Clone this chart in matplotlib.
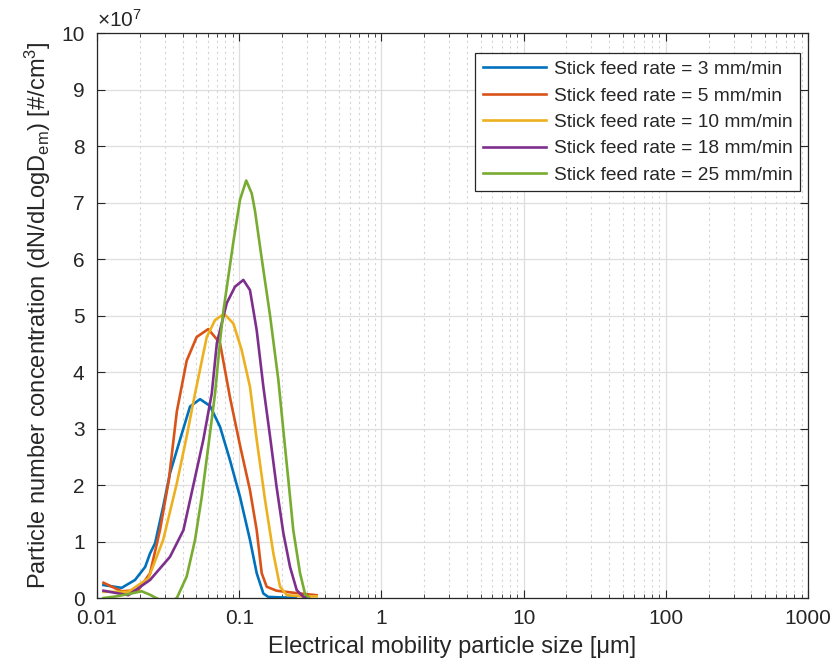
import numpy as np
import matplotlib
matplotlib.use('Agg')
import matplotlib.pyplot as plt
from matplotlib.ticker import LogLocator

plt.rcParams['font.family'] = ['Liberation Sans', 'DejaVu Sans']
plt.rcParams['mathtext.default'] = 'regular'

# particle size [um] and concentration [x1e7 #/cm3], one pair per feed rate
d_3 = [0.0111, 0.0149, 0.0185, 0.0218, 0.0236, 0.0256, 0.0292, 0.0326, 0.0383, 0.0451,
       0.053, 0.0623, 0.0733, 0.0861, 0.1013, 0.119, 0.1327, 0.1478, 0.16, 0.2, 0.25]
n_3 = [0.23, 0.18, 0.32, 0.55, 0.79, 0.97, 1.62, 2.21, 2.80, 3.39,
       3.52, 3.40, 3.03, 2.44, 1.79, 1.03, 0.44, 0.08, 0.02, 0.01, 0.01]

d_5 = [0.0111, 0.0149, 0.0195, 0.0236, 0.0277, 0.032, 0.0364, 0.0427, 0.0502, 0.0606,
       0.0733, 0.0861, 0.1013, 0.119, 0.1327, 0.1439, 0.156, 0.183, 0.2677, 0.35]
n_5 = [0.27, 0.12, 0.14, 0.44, 1.20, 2.09, 3.30, 4.20, 4.62, 4.76,
       4.51, 3.55, 2.70, 1.91, 1.20, 0.44, 0.20, 0.13, 0.08, 0.05]

d_10 = [0.0111, 0.0166, 0.023, 0.0292, 0.0364, 0.0427, 0.0489, 0.0591, 0.0676, 0.0783, 0.0909,
        0.104, 0.119, 0.1327, 0.152, 0.1738, 0.1936, 0.2165, 0.28, 0.35]
n_10 = [0.11, 0.11, 0.35, 1.03, 2.03, 2.86, 3.62, 4.62, 4.92, 5.03, 4.86,
        4.39, 3.74, 2.80, 1.73, 0.79, 0.20, 0.05, 0.03, 0.03]

d_18 = [0.0111, 0.0166, 0.0236, 0.0326, 0.0405, 0.0476, 0.0559, 0.0641, 0.0696, 0.0817, 0.0934,
        0.1069, 0.119, 0.1327, 0.1478, 0.1647, 0.183, 0.2043, 0.2277, 0.2537, 0.283, 0.30]
n_18 = [0.13, 0.05, 0.32, 0.73, 1.20, 2.00, 2.80, 3.62, 4.51, 5.22, 5.51,
        5.63, 5.45, 4.74, 3.74, 2.86, 1.97, 1.15, 0.55, 0.14, 0.02, 0.01]

d_25 = [0.0111, 0.0137, 0.0166, 0.0206, 0.0235, 0.027, 0.031, 0.0364, 0.0427, 0.0489, 0.0545,
        0.0606, 0.0676, 0.0733, 0.0776, 0.0834, 0.0909, 0.1013, 0.112, 0.1225, 0.1291, 0.1439,
        0.1647, 0.1884, 0.2043, 0.2215, 0.24, 0.2677, 0.29, 0.31]
n_25 = [0.0, 0.03, 0.07, 0.12, 0.06, -0.02, -0.1, 0.0, 0.38, 1.03, 1.79,
        2.68, 3.62, 4.55, 5.10, 5.65, 6.30, 7.05, 7.39, 7.16, 6.85, 6.01,
        5.00, 3.86, 2.97, 2.09, 1.20, 0.44, 0.08, 0.0]

labels = ['Stick feed rate = 3 mm/min', 'Stick feed rate = 5 mm/min',
          'Stick feed rate = 10 mm/min', 'Stick feed rate = 18 mm/min',
          'Stick feed rate = 25 mm/min']
colors = ['#0072BD', '#D95319', '#EDB120', '#7E2F8E', '#77AC30']
dark = '#262626'

fig = plt.figure(figsize=(8.35, 6.67), dpi=100)
ax = fig.add_axes([0.1162, 0.1034, 0.8515, 0.8471])

for d, n, lab, c in zip([d_3, d_5, d_10, d_18, d_25],
                        [n_3, n_5, n_10, n_18, n_25], labels, colors):
    ax.plot(d, n, color=c, lw=1.9, label=lab, solid_joinstyle='round')

ax.set_xscale('log')
ax.set_xlim(0.01, 1000)
ax.set_ylim(0, 10)
ax.set_xticks([0.01, 0.1, 1, 10, 100, 1000])
ax.set_xticklabels(['0.01', '0.1', '1', '10', '100', '1000'])
ax.xaxis.set_minor_locator(LogLocator(base=10, subs=np.arange(2, 10), numticks=20))
ax.set_yticks(np.arange(0, 11))
ax.set_yticklabels([str(v) for v in range(11)])
# exponent for the y values, drawn above the axis like an offset text
ax.text(0.0, 1.004, r'$\times10^{7}$', transform=ax.transAxes, ha='left', va='bottom',
        fontsize=15, color=dark)

ax.grid(True, which='major', color='#dedede', lw=0.9)
ax.grid(True, which='minor', axis='x', color='#d4d4d4', lw=0.8, ls=(0, (2, 3)))
ax.set_axisbelow(True)

for s in ax.spines.values():
    s.set_color(dark)
    s.set_linewidth(0.9)
ax.tick_params(which='both', direction='in', colors=dark, labelsize=15, top=True, right=True)
ax.tick_params(which='major', length=6)
ax.tick_params(which='minor', length=3)
ax.tick_params(axis='x', which='major', pad=8)
ax.tick_params(axis='y', which='major', pad=9)

ax.set_xlabel('Electrical mobility particle size [μm]', fontsize=17, color=dark, labelpad=6)
ax.set_ylabel('Particle number concentration (dN/dLogD$_{em}$) [#/cm$^3$]', fontsize=17,
              color=dark, labelpad=6)

leg = ax.legend(loc='upper right', bbox_to_anchor=(0.9887, 0.9646), fontsize=13.8,
                fancybox=False, framealpha=1, edgecolor=dark, handlelength=3.3,
                borderpad=0.4, labelspacing=0.47, handletextpad=0.4, borderaxespad=0)
leg.get_frame().set_linewidth(0.9)
for t in leg.get_texts():
    t.set_color(dark)

fig.savefig('out.png', dpi=100)
